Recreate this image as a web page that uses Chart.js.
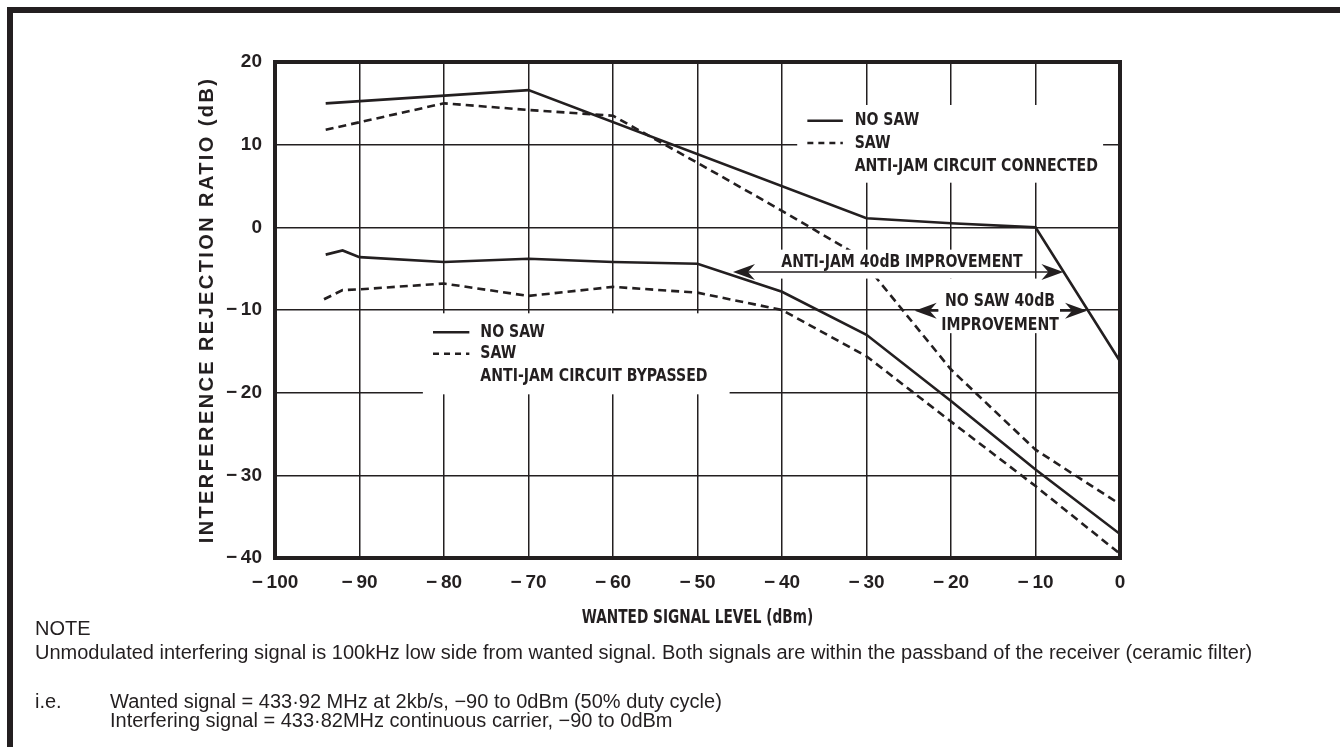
<!DOCTYPE html>
<html>
<head>
<meta charset="utf-8">
<script src="https://cdn.jsdelivr.net/npm/chart.js@4.4.1/dist/chart.umd.min.js"></script>
<style>
  html, body { margin: 0; padding: 0; background: #fff; }
  #wrap { position: relative; width: 1340px; height: 747px; overflow: hidden; }
  #chart { position: absolute; left: 0; top: 0; }
  #frame { position: absolute; left: 7px; top: 7px; right: 0; bottom: 0;
           border-top: 6px solid #231f20; border-left: 6px solid #231f20; }
  .note { position: absolute; font-family: "Liberation Sans", Arial, sans-serif;
          font-size: 20px; color: #231f20; white-space: nowrap; line-height: 22px; }
</style>
</head>
<body>
<div id="wrap">
  <canvas id="chart" width="1340" height="747"></canvas>
  <div id="frame"></div>
  <div class="note" style="left:35px; top:617px;">NOTE</div>
  <div class="note" style="left:35px; top:641px;">Unmodulated interfering signal is 100kHz low side from wanted signal. Both signals are within the passband of the receiver (ceramic filter)</div>
  <div class="note" style="left:35px; top:690px;">i.e.</div>
  <div class="note" style="left:110px; top:690px;">Wanted signal = 433·92 MHz at 2kb/s, −90 to 0dBm (50% duty cycle)</div>
  <div class="note" style="left:110px; top:709px;">Interfering signal = 433·82MHz continuous carrier, −90 to 0dBm</div>
</div>
<script>
// tick values for both axes
const xTickValues = [-100, -90, -80, -70, -60, -50, -40, -30, -20, -10, 0];
const yTickValues = [20, 10, 0, -10, -20, -30, -40];

// anti-jam circuit connected
const connNoSawX = [-94, -70, -30, -20, -10, 0];
const connNoSawY = [15.0, 16.6, 1.1, 0.5, 0.0, -16.2];
const connSawX = [-94, -80, -70, -60, -50, -40, -31, -20, -10, 0];
const connSawY = [11.8, 15.0, 14.2, 13.5, 7.8, 2.0, -3.4, -17.2, -26.9, -33.5];

// anti-jam circuit bypassed
const bypNoSawX = [-94, -92, -90, -80, -70, -60, -50, -40, -30, -20, -10, 0];
const bypNoSawY = [-3.3, -2.8, -3.6, -4.2, -3.8, -4.2, -4.4, -7.8, -13.0, -21.0, -29.3, -37.1];
const bypSawX = [-94.2, -92, -90, -80, -70, -60, -50, -40, -30, -20, -10, 0];
const bypSawY = [-8.7, -7.6, -7.5, -6.8, -8.3, -7.2, -7.9, -10.0, -15.6, -23.5, -31.3, -39.5];

const ink = '#231f20';
const plain = '"Liberation Sans", Arial, sans-serif';
const narrow = '"DejaVu Sans Condensed", "Liberation Sans Narrow", sans-serif';
const dash = [8, 5];

function toPoints(xs, ys) {
    return xs.map((x, i) => ({x: x, y: ys[i]}));
}

function fmt(v) {
    return v < 0 ? '\u2212\u2009' + Math.abs(v) : String(v);
}

function series(label, xs, ys, dashed) {
    return {
        label: label,
        data: toPoints(xs, ys),
        borderColor: ink,
        borderWidth: 2.6,
        borderDash: dashed ? dash : [],
        pointRadius: 0,
        tension: 0,
        fill: false
    };
}

// condensed text: the source uses a narrow bold face
function squeeze(ctx, text, x, y, sx, align) {
    ctx.save();
    ctx.translate(x, y);
    ctx.scale(sx, 1);
    ctx.textAlign = align;
    ctx.fillText(text, 0, 0);
    ctx.restore();
}

function arrowHead(ctx, tx, ty, dir) {
    // dir -1 points left, 1 points right
    ctx.beginPath();
    ctx.moveTo(tx, ty);
    ctx.lineTo(tx - dir * 22, ty - 8);
    ctx.lineTo(tx - dir * 15, ty);
    ctx.lineTo(tx - dir * 22, ty + 8);
    ctx.closePath();
    ctx.fill();
}

// labels, legends, arrows and axis titles drawn on top of the lines
const chartDecor = {
    id: 'chartDecor',
    afterDatasetsDraw(chart) {
        const {ctx, chartArea: a, scales: {x, y}} = chart;
        const X = v => x.getPixelForValue(v);
        const Y = v => y.getPixelForValue(v);
        ctx.save();

        // white panels behind the text (they knock out the grid)
        ctx.fillStyle = '#fff';
        [[-38.2, 14.8, -2.0, 5.4],
         [-40.2, -2.7, -11.0, -6.2],
         [-21.5, -6.2, -7.1, -12.8],
         [-82.5, -10.4, -46.2, -20.2]].forEach(b => {
            ctx.fillRect(X(b[0]), Y(b[1]), X(b[2]) - X(b[0]), Y(b[3]) - Y(b[1]));
        });

        ctx.strokeStyle = ink;
        ctx.fillStyle = ink;
        ctx.lineWidth = 2.6;

        // legend keys
        function key(x0, x1, yv, dashed) {
            ctx.setLineDash(dashed ? [6, 5] : []);
            ctx.beginPath();
            ctx.moveTo(X(x0), Y(yv));
            ctx.lineTo(X(x1), Y(yv));
            ctx.stroke();
        }
        key(-37.0, -32.8, 12.9, false);
        key(-37.0, -32.8, 10.2, true);
        key(-81.3, -77.0, -12.7, false);
        key(-81.3, -77.0, -15.3, true);
        ctx.setLineDash([]);

        ctx.font = 'bold 18px ' + narrow;
        ctx.textBaseline = 'middle';
        const k = 0.87;
        squeeze(ctx, 'NO SAW', X(-31.4), Y(12.9), k, 'left');
        squeeze(ctx, 'SAW', X(-31.4), Y(10.2), k, 'left');
        squeeze(ctx, 'ANTI-JAM CIRCUIT CONNECTED', X(-31.4), Y(7.4), k, 'left');
        squeeze(ctx, 'NO SAW', X(-75.7), Y(-12.7), k, 'left');
        squeeze(ctx, 'SAW', X(-75.7), Y(-15.3), k, 'left');
        squeeze(ctx, 'ANTI-JAM CIRCUIT BYPASSED', X(-75.7), Y(-18.0), k, 'left');

        squeeze(ctx, 'ANTI-JAM 40dB IMPROVEMENT', X(-25.8), Y(-4.2), k, 'center');
        squeeze(ctx, 'NO SAW 40dB', X(-14.2), Y(-9.0), k, 'center');
        squeeze(ctx, 'IMPROVEMENT', X(-14.2), Y(-11.8), k, 'center');

        // improvement arrows
        ctx.lineWidth = 1.6;
        ctx.beginPath();
        ctx.moveTo(X(-45.8) + 10, Y(-5.4));
        ctx.lineTo(X(-6.7) - 10, Y(-5.4));
        ctx.moveTo(X(-24.3) + 10, Y(-10.1));
        ctx.lineTo(X(-21.5), Y(-10.1));
        ctx.moveTo(X(-7.1), Y(-10.1));
        ctx.lineTo(X(-3.9) - 10, Y(-10.1));
        ctx.stroke();
        arrowHead(ctx, X(-45.8), Y(-5.4), -1);
        arrowHead(ctx, X(-6.7), Y(-5.4), 1);
        arrowHead(ctx, X(-24.3), Y(-10.1), -1);
        arrowHead(ctx, X(-3.9), Y(-10.1), 1);

        // heavy plot frame
        ctx.lineWidth = 4;
        ctx.strokeRect(a.left, a.top, a.right - a.left, a.bottom - a.top);

        // axis titles
        ctx.font = 'bold 19px ' + narrow;
        squeeze(ctx, 'WANTED SIGNAL LEVEL (dBm)', (a.left + a.right) / 2, a.bottom + 60, 0.8, 'center');

        ctx.save();
        ctx.translate(a.left - 68, (a.top + a.bottom) / 2);
        ctx.rotate(-Math.PI / 2);
        ctx.font = 'bold 20px ' + plain;
        ctx.letterSpacing = '2.4px';
        ctx.textAlign = 'center';
        ctx.fillText('INTERFERENCE REJECTION RATIO (dB)', 0, 0);
        ctx.restore();

        ctx.restore();
    }
};

const chartCtx = document.getElementById('chart').getContext('2d');
new Chart(chartCtx, {
    type: 'line',
    data: {
        datasets: [
            series('Connected, no SAW', connNoSawX, connNoSawY, false),
            series('Connected, SAW', connSawX, connSawY, true),
            series('Bypassed, no SAW', bypNoSawX, bypNoSawY, false),
            series('Bypassed, SAW', bypSawX, bypSawY, true)
        ]
    },
    options: {
        responsive: false,
        devicePixelRatio: 1,
        animation: false,
        layout: {
            padding: {left: 190, top: 62, right: 220, bottom: 109}
        },
        plugins: {
            legend: {display: false},
            tooltip: {enabled: false}
        },
        scales: {
            x: {
                type: 'linear',
                min: -100,
                max: 0,
                afterFit: s => { s.height = 80; },
                afterBuildTicks: s => { s.ticks = xTickValues.map(v => ({value: v})); },
                grid: {color: ink, lineWidth: 1.5, drawTicks: false},
                border: {display: false},
                ticks: {
                    color: ink,
                    padding: 13,
                    maxRotation: 0,
                    font: {family: plain, size: 19, weight: 'bold'},
                    callback: v => fmt(v)
                }
            },
            y: {
                type: 'linear',
                min: -40,
                max: 20,
                afterFit: s => { s.width = 85; },
                afterBuildTicks: s => { s.ticks = yTickValues.map(v => ({value: v})); },
                grid: {color: ink, lineWidth: 1.5, drawTicks: false},
                border: {display: false},
                ticks: {
                    color: ink,
                    padding: 13,
                    font: {family: plain, size: 19, weight: 'bold'},
                    callback: v => fmt(v)
                }
            }
        }
    },
    plugins: [chartDecor]
});
</script>
</body>
</html>
